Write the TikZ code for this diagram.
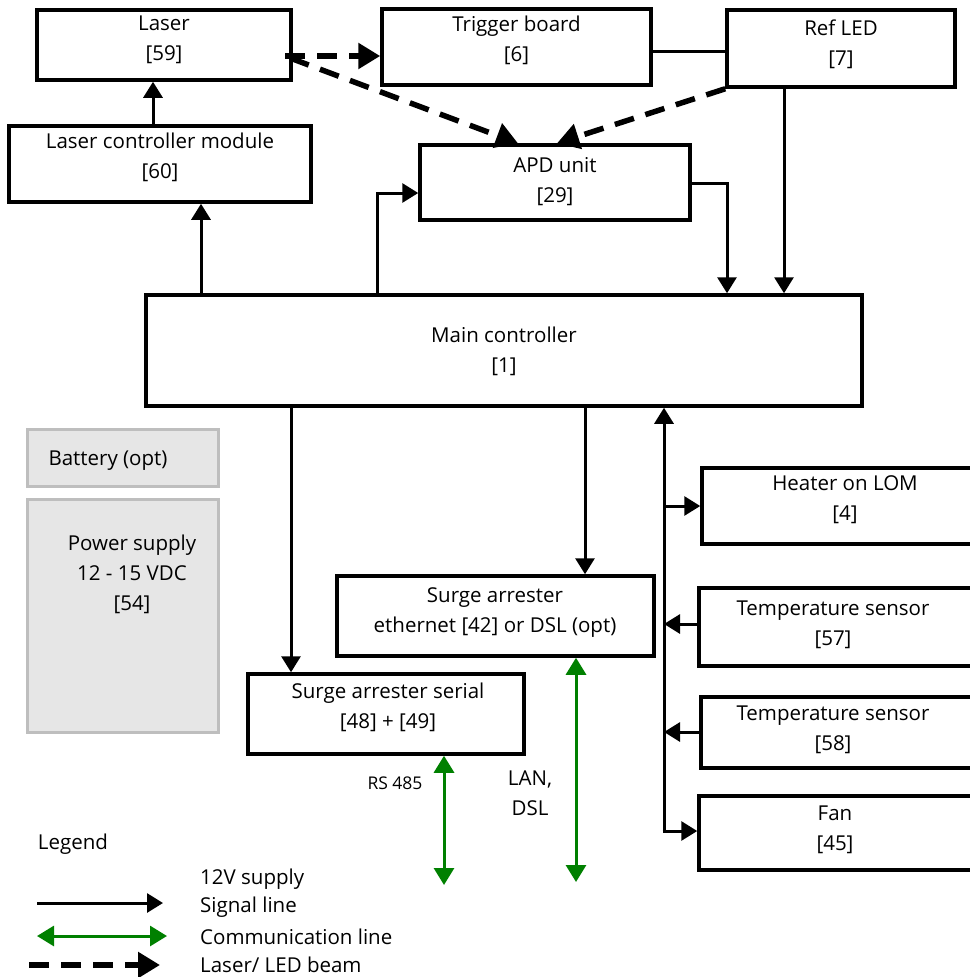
\documentclass[tikz,border=0pt]{standalone}
\usepackage{fontspec}
\setmainfont{Open Sans}
\usetikzlibrary{arrows.meta}
\definecolor{commgreen}{HTML}{008000}
\definecolor{psfill}{HTML}{E6E6E6}
\definecolor{psdraw}{HTML}{BEBEBE}
\begin{document}
\begin{tikzpicture}[x=1pt,y=-1pt,
  every node/.style={font=\fontsize{20.5}{30}\selectfont},
  box/.style={draw=black, line width=3.5pt, inner sep=0pt},
  gbox/.style={draw=psdraw, fill=psfill, line width=3pt, inner sep=0pt},
  txt/.style={align=center, inner sep=0pt},
  btxt/.style={txt, yshift=-2.5pt},
  sig/.style={line width=3pt, -{Triangle[length=16pt,width=19pt]}},
  beam/.style={line width=5.5pt, dash pattern=on 20pt off 12pt, -{Triangle[length=22pt,width=25pt]}},
  comm/.style={draw=commgreen, line width=3pt, {Triangle[length=17pt,width=20pt]}-{Triangle[length=17pt,width=20pt]}, commgreen},
  lbl/.style={inner sep=0pt, anchor=west}
]
\useasboundingbox (0,0) rectangle (969,977);

% boxes
\node[box, minimum width=254pt, minimum height=70pt] (laser) at (164,45) {};
\node[btxt] (laserT) at (164,37) {Laser\\{}[59]};
\node[box, minimum width=269pt, minimum height=76pt] (trig) at (516.5,47) {};
\node[btxt] (trigT) at (516.5,38) {Trigger board\\{}[6]};
\node[box, minimum width=228pt, minimum height=77pt] (ref) at (841,48.5) {};
\node[btxt] (refT) at (841,42) {Ref LED\\{}[7]};
\node[box, minimum width=302pt, minimum height=76pt] (lcm) at (160,164) {};
\node[btxt] (lcmT) at (160,155) {Laser controller module\\{}[60]};
\node[box, minimum width=270pt, minimum height=75pt] (apd) at (555,182.5) {};
\node[btxt] (apdT) at (555,179.5) {APD unit\\{}[29]};
\node[box, minimum width=716pt, minimum height=111pt] (main) at (504,350.5) {};
\node[btxt] (mainT) at (504,349) {Main controller\\{}[1]};

\node[gbox, minimum width=191pt, minimum height=57pt] (bat) at (122.5,457.5) {};
\node[btxt] (batT) at (108,458) {Battery (opt)};
\node[gbox, minimum width=191pt, minimum height=233pt] (ps) at (122.5,615.5) {};
\node[btxt] (psT) at (132,572) {Power supply\\12 - 15 VDC\\{}[54]};

\node[box, minimum width=288pt, minimum height=76pt] (heat) at (846,506) {};
\node[btxt] (heatT) at (845,497) {Heater on LOM\\{}[4]};
\node[box, minimum width=273pt, minimum height=78pt] (t57) at (835.5,627) {};
\node[btxt] (t57T) at (833,622) {Temperature sensor\\{}[57]};
\node[box, minimum width=271pt, minimum height=71pt] (t58) at (836.5,732.5) {};
\node[btxt] (t58T) at (833,727) {Temperature sensor\\{}[58]};
\node[box, minimum width=273pt, minimum height=74pt] (fan) at (835.5,833) {};
\node[btxt] (fanT) at (835,827) {Fan\\{}[45]};

\node[box, minimum width=317pt, minimum height=80pt] (eth) at (495.5,616) {};
\node[btxt] (ethT) at (495,610) {Surge arrester\\ethernet [42] or DSL (opt)};
\node[box, minimum width=276pt, minimum height=80pt] (ser) at (386,714) {};
\node[btxt] (serT) at (388,704.5) {Surge arrester serial\\{}[48] + [49]};

% signal lines
\draw[sig] (201,0 |- main.north) -- (201,0 |- lcm.south);
\draw[sig] (153,0 |- lcm.north) -- (153,0 |- laser.south);
\draw[sig] (377,0 |- main.north) |- (apd.west |- 0,193);
\draw[sig] (apd.east |- 0,183) -| (727,0 |- main.north);
\draw[sig] (784,0 |- ref.south) -- (784,0 |- main.north);
\draw[line width=3pt] (trig.east |- 0,51) -- (ref.west |- 0,51);

\draw[sig] (291,0 |- main.south) -- (291,0 |- ser.north);
\draw[sig] (585,0 |- main.south) -- (585,0 |- eth.north);

\coordinate (bus1) at (664,506);
\coordinate (bus2) at (664,624);
\coordinate (bus3) at (664,732);
\coordinate (bus4) at (664,831);
\draw[sig] (bus4) -- (664,0 |- main.south);
\draw[sig] (bus1) -- (heat.west |- bus1);
\draw[sig] (t57.west |- bus2) -- (bus2);
\draw[sig] (t58.west |- bus3) -- (bus3);
\draw[sig] ([xshift=-1.5pt]bus4) -- (fan.west |- bus4);

% beams
\draw[beam] (285,56) -- (trig.west |- 0,56);
\draw[beam] (290,58) -- (518,0 |- apd.north);
\draw[beam] (ref.south west) -- (557,0 |- apd.north);

% communication
\coordinate (rsEnd) at (444,885);
\coordinate (lanEnd) at (576,882);
\draw[comm] (444,0 |- ser.south) -- (rsEnd);
\draw[comm] (576,0 |- eth.south) -- (lanEnd);
\node[txt, font=\fontsize{17.5}{30}\selectfont] (rsT) at (395,783) {RS 485};
\node[txt, align=center] (lanT) at (530,793) {LAN,\\DSL};

% legend
\node[txt] (legT) at (73,844) {Legend};
\coordinate (l1a) at (37,903); \coordinate (l1b) at (163,903);
\coordinate (l2a) at (37,936); \coordinate (l2b) at (167,936);
\coordinate (l3a) at (29,965); \coordinate (l3b) at (160,965);
\draw[sig] (l1a) -- (l1b);
\draw[comm] (l2a) -- (l2b);
\draw[beam] (l3a) -- (l3b);
\node[lbl] (lg1) at (200,879) {12V supply};
\node[lbl] (lg2) at (200,907) {Signal line};
\node[lbl] (lg3) at (200,937) {Communication line};
\node[lbl] (lg4) at (200,965) {Laser/ LED beam};
\end{tikzpicture}
\end{document}
